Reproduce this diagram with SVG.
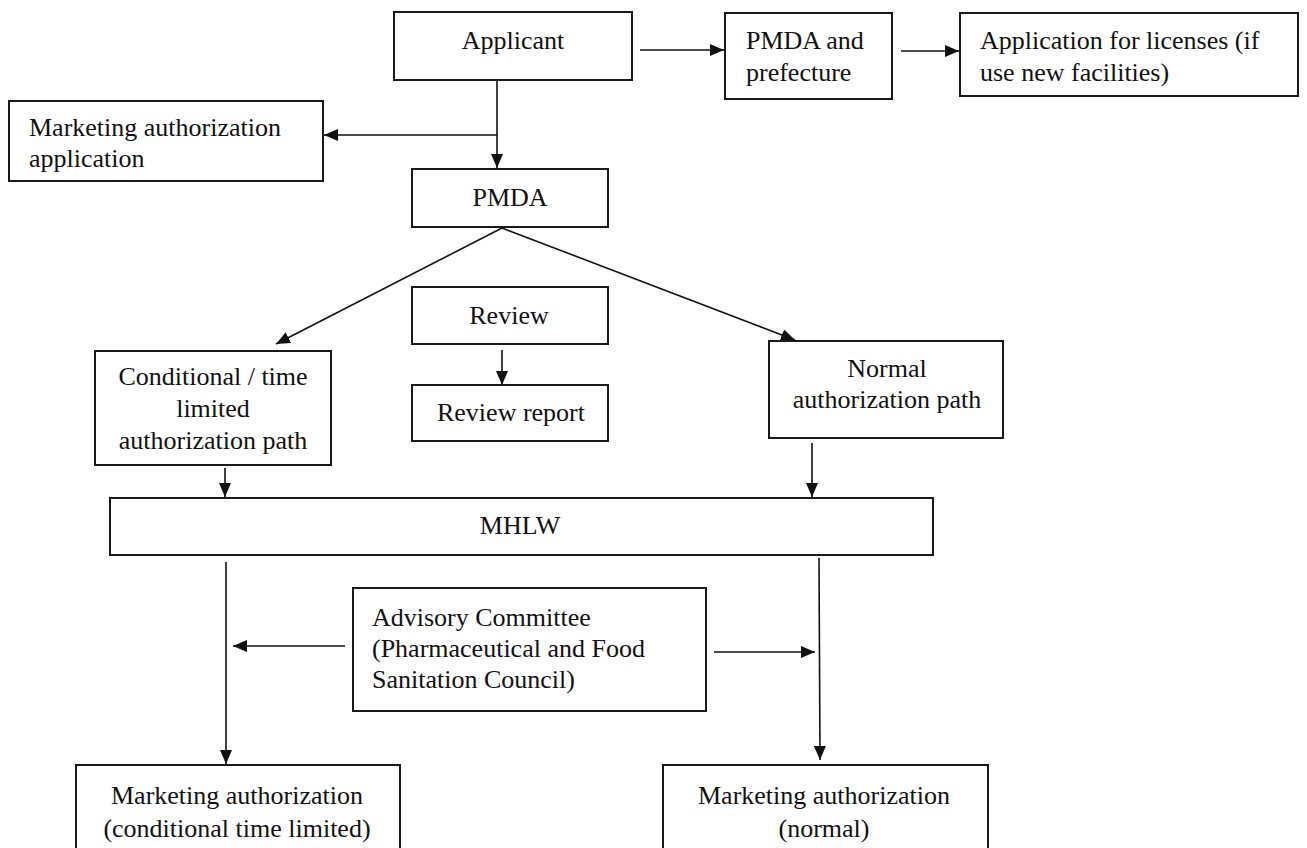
<svg xmlns="http://www.w3.org/2000/svg" width="1307" height="848" viewBox="0 0 1307 848">
<defs>
<style>
.box{fill:#fff;stroke:#1a1a1a;stroke-width:2}
.t{font-family:"Liberation Serif","Times New Roman",serif;font-size:26px;fill:#111}
.c{text-anchor:middle}
.ln{stroke:#111;stroke-width:1.6;fill:none;marker-end:url(#ah)}
</style>
<marker id="ah" markerUnits="userSpaceOnUse" markerWidth="14" markerHeight="12" refX="14" refY="6" orient="auto">
<path d="M0,0 L14,6 L0,12 z" fill="#111"/>
</marker>
</defs>
<rect width="1307" height="848" fill="#fff"/>
<g id="connectors">
<line class="ln" x1="640" y1="50" x2="724" y2="50"/>
<line class="ln" x1="901" y1="51" x2="959" y2="51"/>
<line class="ln" x1="497" y1="80" x2="497" y2="168"/>
<line class="ln" x1="497" y1="135" x2="324" y2="135"/>
<line class="ln" x1="502" y1="228" x2="276" y2="344"/>
<line class="ln" x1="502" y1="228" x2="795" y2="340"/>
<line class="ln" x1="502" y1="350" x2="502" y2="385"/>
<line class="ln" x1="225" y1="468" x2="225" y2="497"/>
<line class="ln" x1="812" y1="443" x2="812" y2="497"/>
<line class="ln" x1="226" y1="562" x2="226" y2="764"/>
<line class="ln" x1="819" y1="558" x2="820" y2="760"/>
<line class="ln" x1="345" y1="646" x2="233" y2="646"/>
<line class="ln" x1="714" y1="652" x2="815" y2="652"/>
</g>
<g id="applicant"><rect class="box" x="394" y="12" width="238" height="68"/><text class="t c" x="513" y="49">Applicant</text></g>
<g id="pmda-prefecture"><rect class="box" x="725" y="13" width="167" height="86"/><text class="t" x="746" y="49">PMDA and</text><text class="t" x="746" y="81">prefecture</text></g>
<g id="licenses"><rect class="box" x="960" y="13" width="338" height="83"/><text class="t" x="980" y="49">Application for licenses (if</text><text class="t" x="980" y="81">use new facilities)</text></g>
<g id="ma-application"><rect class="box" x="9" y="101" width="314" height="80"/><text class="t" x="29" y="136">Marketing authorization</text><text class="t" x="29" y="167">application</text></g>
<g id="pmda"><rect class="box" x="412" y="169" width="196" height="58"/><text class="t c" x="510" y="206">PMDA</text></g>
<g id="review"><rect class="box" x="412" y="287" width="196" height="57"/><text class="t c" x="509" y="324">Review</text></g>
<g id="review-report"><rect class="box" x="412" y="385" width="196" height="56"/><text class="t c" x="511" y="421">Review report</text></g>
<g id="conditional-path"><rect class="box" x="95" y="351" width="236" height="114"/><text class="t c" x="213" y="385">Conditional / time</text><text class="t c" x="213" y="417">limited</text><text class="t c" x="213" y="449">authorization path</text></g>
<g id="normal-path"><rect class="box" x="769" y="341" width="234" height="97"/><text class="t c" x="887" y="377">Normal</text><text class="t c" x="887" y="408">authorization path</text></g>
<g id="mhlw"><rect class="box" x="110" y="498" width="823" height="57"/><text class="t c" x="520" y="534">MHLW</text></g>
<g id="advisory"><rect class="box" x="353" y="588" width="353" height="123"/><text class="t" x="372" y="626">Advisory Committee</text><text class="t" x="372" y="657">(Pharmaceutical and Food</text><text class="t" x="372" y="688">Sanitation Council)</text></g>
<g id="ma-conditional"><rect class="box" x="76" y="765" width="324" height="100"/><text class="t c" x="237" y="804">Marketing authorization</text><text class="t c" x="237" y="837">(conditional time limited)</text></g>
<g id="ma-normal"><rect class="box" x="663" y="765" width="325" height="100"/><text class="t c" x="824" y="804">Marketing authorization</text><text class="t c" x="824" y="837">(normal)</text></g>
</svg>
